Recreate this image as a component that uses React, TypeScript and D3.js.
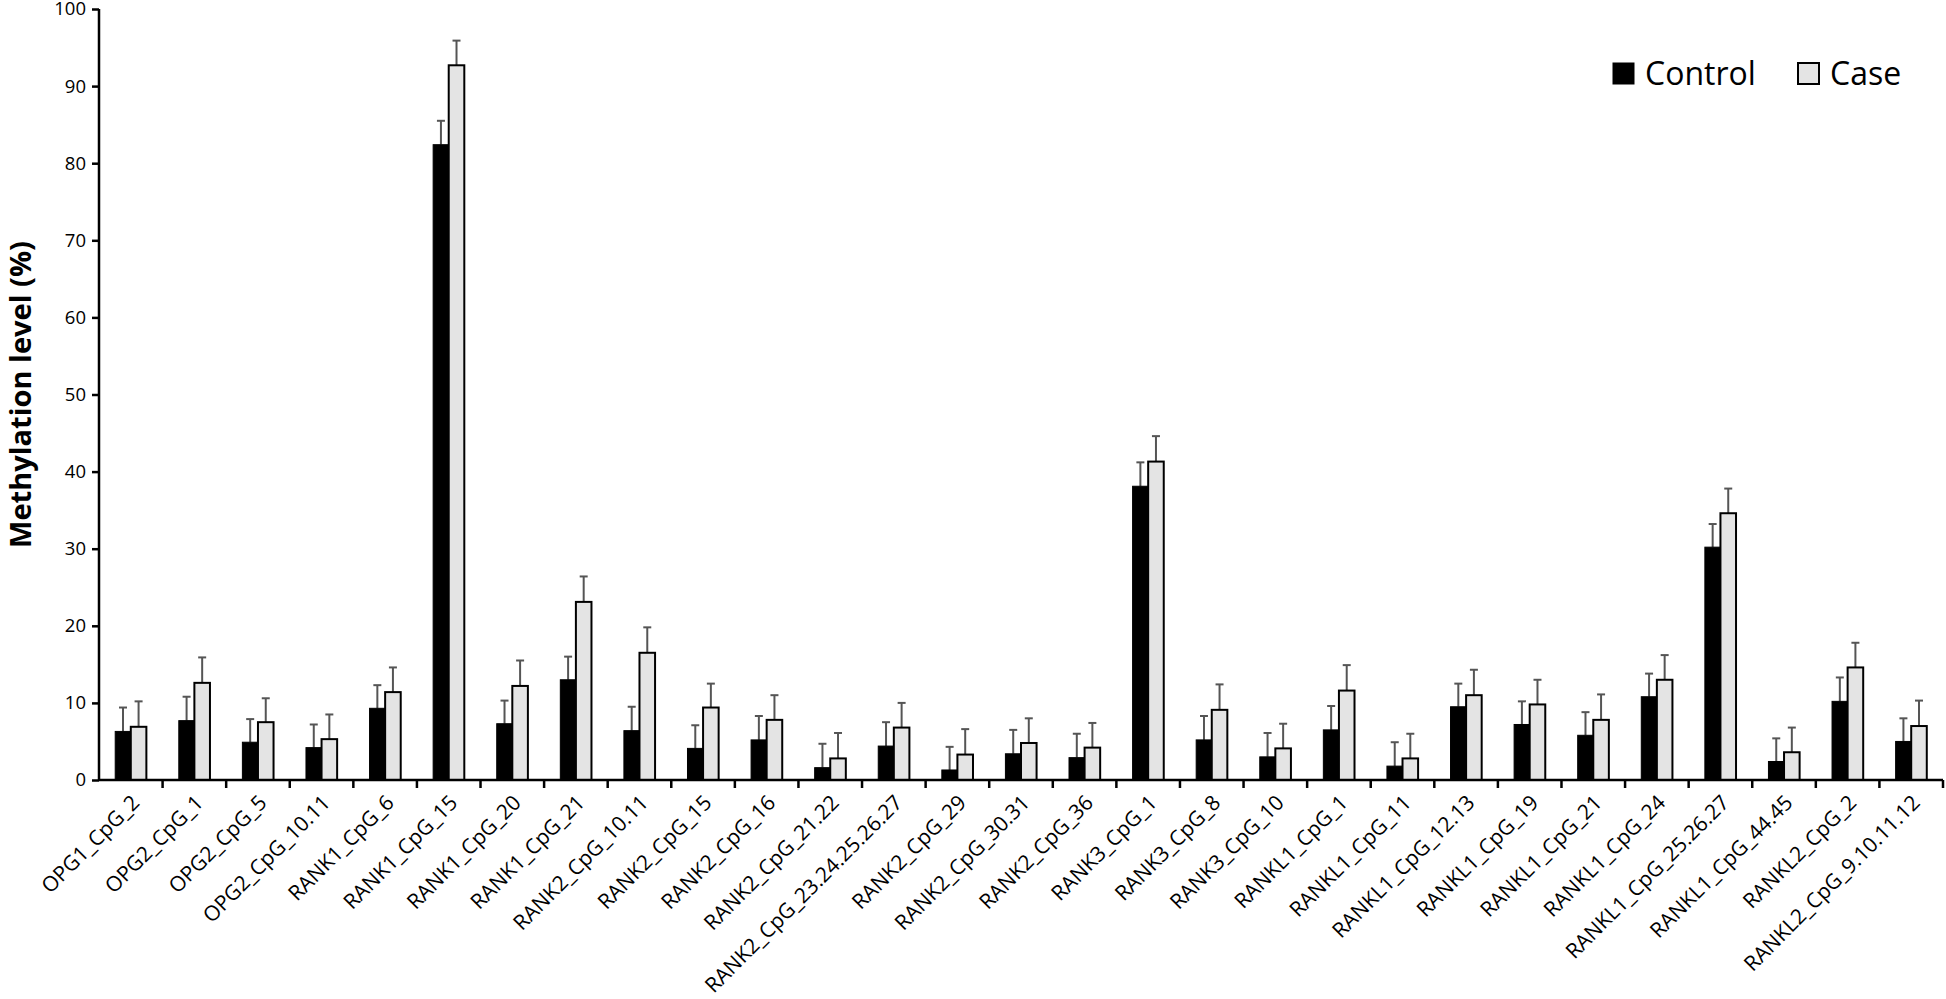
import { useEffect, useRef } from "react";
import * as d3 from "d3";

const categories = [
  "OPG1_CpG_2",
  "OPG2_CpG_1",
  "OPG2_CpG_5",
  "OPG2_CpG_10.11",
  "RANK1_CpG_6",
  "RANK1_CpG_15",
  "RANK1_CpG_20",
  "RANK1_CpG_21",
  "RANK2_CpG_10.11",
  "RANK2_CpG_15",
  "RANK2_CpG_16",
  "RANK2_CpG_21.22",
  "RANK2_CpG_23.24.25.26.27",
  "RANK2_CpG_29",
  "RANK2_CpG_30.31",
  "RANK2_CpG_36",
  "RANK3_CpG_1",
  "RANK3_CpG_8",
  "RANK3_CpG_10",
  "RANKL1_CpG_1",
  "RANKL1_CpG_11",
  "RANKL1_CpG_12.13",
  "RANKL1_CpG_19",
  "RANKL1_CpG_21",
  "RANKL1_CpG_24",
  "RANKL1_CpG_25.26.27",
  "RANKL1_CpG_44.45",
  "RANKL2_CpG_2",
  "RANKL2_CpG_9.10.11.12",
];

const controlValues = [
  6.3, 7.7, 4.9, 4.2, 9.3, 82.4, 7.3, 13.0, 6.4, 4.1, 5.2, 1.6, 4.4, 1.3, 3.4,
  2.9, 38.1, 5.2, 3.0, 6.5, 1.8, 9.5, 7.2, 5.8, 10.8, 30.2, 2.4, 10.2, 5.0,
];
const controlErrors = [
  3.1, 3.1, 3.0, 3.0, 3.0, 3.1, 3.0, 3.0, 3.1, 3.0, 3.1, 3.1, 3.1, 3.0, 3.1,
  3.1, 3.1, 3.1, 3.1, 3.1, 3.1, 3.0, 3.0, 3.0, 3.0, 3.0, 3.0, 3.1, 3.0,
];
const caseValues = [
  6.9, 12.6, 7.5, 5.3, 11.4, 92.7, 12.2, 23.1, 16.5, 9.4, 7.8, 2.8, 6.8, 3.3, 4.8,
  4.2, 41.3, 9.1, 4.1, 11.6, 2.8, 11.0, 9.8, 7.8, 13.0, 34.6, 3.6, 14.6, 7.0,
];
const caseErrors = [
  3.3, 3.3, 3.1, 3.2, 3.2, 3.2, 3.3, 3.3, 3.3, 3.1, 3.2, 3.3, 3.2, 3.3, 3.2,
  3.2, 3.3, 3.3, 3.2, 3.3, 3.2, 3.3, 3.2, 3.3, 3.2, 3.2, 3.2, 3.2, 3.3,
];
const yTicks = [0, 10, 20, 30, 40, 50, 60, 70, 80, 90, 100];
const seriesNames = ["Control", "Case"];

const FONT = "'Open Sans', sans-serif";

function Chart() {
  const ref = useRef(null);

  useEffect(() => {
    const svgEl = ref.current;
    const width = 1946;
    const height = 999;
    const margin = { top: 9, right: 3, bottom: 219, left: 99 };

    const svg = d3.select(svgEl).attr("width", width).attr("height", height);

    const x = d3
      .scaleBand()
      .domain(categories)
      .range([margin.left, width - margin.right])
      .paddingInner(0)
      .paddingOuter(0);
    const y = d3
      .scaleLinear()
      .domain([0, 100])
      .range([height - margin.bottom, margin.top]);

    const pairW = x.bandwidth() * 0.49;
    const x1 = d3
      .scaleBand()
      .domain(seriesNames)
      .range([0, pairW])
      .padding(0);

    const rows = categories.map((c, i) => ({
      cat: c,
      vals: [
        { s: "Control", v: controlValues[i], e: controlErrors[i] },
        { s: "Case", v: caseValues[i], e: caseErrors[i] },
      ],
    }));

    const groups = svg
      .append("g")
      .selectAll("g")
      .data(rows)
      .enter()
      .append("g")
      .attr(
        "transform",
        (d) => `translate(${x(d.cat) + (x.bandwidth() - pairW) / 2},0)`
      );

    // Error bars (drawn first so the bar outline sits on top)
    const err = groups
      .selectAll("g.err")
      .data((d) => d.vals)
      .enter()
      .append("g")
      .attr("class", "err")
      .attr("stroke", "#555")
      .attr("stroke-width", 2);
    err
      .append("line")
      .attr("x1", (d) => x1(d.s) + x1.bandwidth() / 2)
      .attr("x2", (d) => x1(d.s) + x1.bandwidth() / 2)
      .attr("y1", (d) => y(d.v))
      .attr("y2", (d) => y(d.v + d.e));
    err
      .append("line")
      .attr("x1", (d) => x1(d.s) + x1.bandwidth() / 2 - 4)
      .attr("x2", (d) => x1(d.s) + x1.bandwidth() / 2 + 4)
      .attr("y1", (d) => y(d.v + d.e))
      .attr("y2", (d) => y(d.v + d.e));

    // Bars
    groups
      .selectAll("rect")
      .data((d) => d.vals)
      .enter()
      .append("rect")
      .attr("x", (d) => x1(d.s))
      .attr("y", (d) => y(d.v))
      .attr("width", x1.bandwidth())
      .attr("height", (d) => y(0) - y(d.v))
      .attr("fill", (d) => (d.s === "Control" ? "#000" : "#e4e4e4"))
      .attr("stroke", "#000")
      .attr("stroke-width", (d) => (d.s === "Control" ? 1 : 2));

    // Y axis
    const yAxis = svg
      .append("g")
      .attr("transform", `translate(${margin.left},0)`)
      .call(d3.axisLeft(y).tickValues(yTicks).tickSize(7).tickPadding(6));
    yAxis.select(".domain").attr("stroke-width", 2.5).attr("d", `M0,${y(0)}V${y(100)}`);
    yAxis.selectAll(".tick line").attr("stroke-width", 2.5);
    yAxis
      .selectAll(".tick text")
      .attr("font-family", FONT)
      .attr("font-size", 18.5)
      .attr("fill", "#000");

    // X axis: ticks at category boundaries
    const xAxisG = svg.append("g");
    xAxisG
      .append("line")
      .attr("x1", margin.left)
      .attr("x2", width - margin.right)
      .attr("y1", y(0))
      .attr("y2", y(0))
      .attr("stroke", "#000")
      .attr("stroke-width", 2.5);
    const bounds = categories.map((c) => x(c) + x.bandwidth());
    xAxisG
      .selectAll("line.tick")
      .data(bounds)
      .enter()
      .append("line")
      .attr("class", "tick")
      .attr("x1", (d) => d)
      .attr("x2", (d) => d)
      .attr("y1", y(0))
      .attr("y2", y(0) + 8)
      .attr("stroke", "#000")
      .attr("stroke-width", 2.5);
    xAxisG
      .selectAll("text")
      .data(categories)
      .enter()
      .append("text")
      .attr("font-family", FONT)
      .attr("font-size", 21)
      .attr("text-anchor", "end")
      .attr(
        "transform",
        (d) => `translate(${x(d) + x.bandwidth() / 2 + 10},${y(0) + 24}) rotate(-45)`
      )
      .text((d) => d);

    // Y axis title
    svg
      .append("text")
      .attr("font-family", FONT)
      .attr("font-weight", "bold")
      .attr("font-size", 29)
      .attr("text-anchor", "middle")
      .attr("transform", `translate(31,${(y(0) + y(100)) / 2}) rotate(-90)`)
      .text("Methylation level (%)");

    // Legend
    const legend = svg
      .append("g")
      .selectAll("g")
      .data([
        { name: "Control", x: 1613, fill: "#000", sw: 1 },
        { name: "Case", x: 1798, fill: "#e4e4e4", sw: 2 },
      ])
      .enter()
      .append("g")
      .attr("transform", (d) => `translate(${d.x},63)`);
    legend
      .append("rect")
      .attr("width", 21)
      .attr("height", 21)
      .attr("fill", (d) => d.fill)
      .attr("stroke", "#000")
      .attr("stroke-width", (d) => d.sw);
    legend
      .append("text")
      .attr("x", 32)
      .attr("y", 22)
      .attr("font-family", FONT)
      .attr("font-size", 32)
      .text((d) => d.name);

    return () => {
      d3.select(svgEl).selectAll("*").remove();
    };
  }, []);

  return (
    <svg
      ref={ref}
      style={{ position: "absolute", left: 0, top: 0, background: "#fff" }}
    />
  );
}

export default function App() {
  return <Chart />;
}
